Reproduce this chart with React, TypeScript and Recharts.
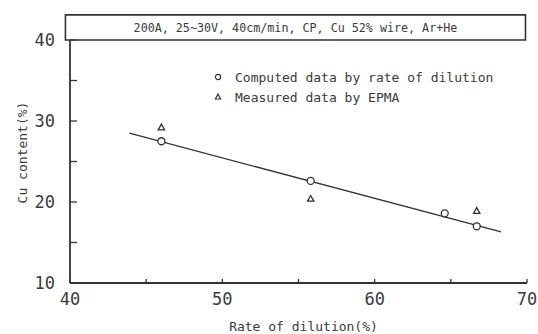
import React from 'react';
import { ComposedChart, XAxis, YAxis, Scatter, Line, ReferenceArea, Legend } from 'recharts';

const computedX = [46.0, 55.8, 64.6, 66.7];
const computedY = [27.5, 22.6, 18.6, 17.0];
const measuredX = [46.0, 55.8, 66.7];
const measuredY = [29.2, 20.4, 18.9];
const fitX = [43.9, 68.3];
const fitY = [28.5, 16.3];
const xTicks = [40, 45, 50, 55, 60, 65, 70];
const yTicks = [10, 15, 20, 25, 30, 35, 40];
const xLabelled = [40, 50, 60, 70];
const yLabelled = [10, 20, 30, 40];
const xDomain: [number, number] = [40, 70];
const yDomain: [number, number] = [10, 40];
const headerRange = { x1: 39.7, x2: 69.9, y1: 40, y2: 43.1 };
const headerText = '200A, 25~30V, 40cm/min, CP, Cu 52% wire, Ar+He';
const computedName = 'Computed data by rate of dilution';
const measuredName = 'Measured data by EPMA';
const xTitle = 'Rate of dilution(%)';
const yTitle = 'Cu content(%)';

const computedData = computedX.map((x, i) => ({ x, y: computedY[i] }));
const measuredData = measuredX.map((x, i) => ({ x, y: measuredY[i] }));
const fitData = fitX.map((x, i) => ({ x, y: fitY[i] }));

const INK = '#333';
const TEXT = '#3a3a3a';
const MONO = '"DejaVu Sans Mono", "Liberation Mono", monospace';

const BottomTick = (p: any) => {
  const { x, y, payload } = p;
  const v = payload.value;
  return (
    <g>
      <line x1={x} y1={y} x2={x} y2={y - 4} stroke={INK} strokeWidth={1.3} />
      {xLabelled.includes(v) && (
        <text x={x} y={y + 22} textAnchor="middle" fontFamily={MONO} fontSize={17} fill={TEXT}>
          {v}
        </text>
      )}
    </g>
  );
};

const TopTick = (p: any) => {
  const { x, y } = p;
  return <line x1={x} y1={y} x2={x} y2={y + 4} stroke={INK} strokeWidth={1.3} />;
};

const LeftTick = (p: any) => {
  const { x, y, payload } = p;
  const v = payload.value;
  return (
    <g>
      <line x1={x} y1={y} x2={x + 7} y2={y} stroke={INK} strokeWidth={1.3} />
      {yLabelled.includes(v) && (
        <text x={x - 15} y={y + 6} textAnchor="end" fontFamily={MONO} fontSize={17} fill={TEXT}>
          {v}
        </text>
      )}
    </g>
  );
};

const RightTick = (p: any) => {
  const { x, y } = p;
  return <line x1={x} y1={y} x2={x - 4} y2={y} stroke={INK} strokeWidth={1.3} />;
};

const CircleShape = (p: any) => (
  <circle cx={p.cx} cy={p.cy} r={3.5} fill="#fff" stroke={INK} strokeWidth={1.3} />
);

const TriShape = (p: any) => (
  <polygon
    points={`${p.cx},${p.cy - 3.3} ${p.cx - 3.2},${p.cy + 2.4} ${p.cx + 3.2},${p.cy + 2.4}`}
    fill="#fff"
    stroke={INK}
    strokeWidth={1.3}
  />
);

const XTitle = (props: any) => {
  const vb = props.viewBox || {};
  const cx = (vb.x ?? 70) + (vb.width ?? 457) / 2 + 5;
  const cy = (vb.y ?? 283) + 48;
  return (
    <text x={cx} y={cy} textAnchor="middle" fontFamily={MONO} fontSize={13} fill={TEXT}>
      {xTitle}
    </text>
  );
};

const YTitle = (props: any) => {
  const vb = props.viewBox || {};
  const cx = (vb.x ?? 0) + 22;
  const cy = (vb.y ?? 40) + (vb.height ?? 243) / 2 - 9;
  return (
    <text
      x={cx}
      y={cy}
      transform={`rotate(-90 ${cx} ${cy})`}
      textAnchor="middle"
      dominantBaseline="central"
      fontFamily={MONO}
      fontSize={13}
      fill={TEXT}
    >
      {yTitle}
    </text>
  );
};

const LegendContent = (props: any) => {
  const payload = props.payload || [];
  const items = payload.filter((e: any) => e.value === computedName || e.value === measuredName);
  return (
    <div style={{ fontFamily: MONO, fontSize: 13, color: TEXT }}>
      {items.map((e: any) => (
        <div key={e.value} style={{ display: 'flex', alignItems: 'center', height: 20 }}>
          <svg width={23} height={12}>
            {e.value === computedName ? (
              <circle cx={6} cy={6} r={2.6} fill="#fff" stroke={INK} strokeWidth={1.2} />
            ) : (
              <polygon points="6,3 3.4,8 8.6,8" fill="#fff" stroke={INK} strokeWidth={1.2} />
            )}
          </svg>
          <span>{e.value}</span>
        </div>
      ))}
    </div>
  );
};

export default function App() {
  return (
    <div style={{ position: 'absolute', left: 0, top: 0, background: '#fff' }}>
      <ComposedChart width={538} height={334} margin={{ top: 40, right: 11, bottom: 0, left: 0 }}>
        <XAxis
          xAxisId="b"
          dataKey="x"
          type="number"
          domain={xDomain}
          ticks={xTicks}
          interval={0}
          height={51}
          tickSize={0}
          tickMargin={0}
          tickLine={false}
          axisLine={{ stroke: INK, strokeWidth: 1.8 }}
          tick={BottomTick}
          label={<XTitle />}
        />
        <XAxis
          xAxisId="t"
          orientation="top"
          dataKey="x"
          type="number"
          domain={xDomain}
          ticks={xTicks}
          interval={0}
          height={0}
          tickSize={0}
          tickMargin={0}
          tickLine={false}
          axisLine={false}
          tick={TopTick}
        />
        <YAxis
          yAxisId="l"
          dataKey="y"
          type="number"
          domain={yDomain}
          ticks={yTicks}
          interval={0}
          width={70}
          tickSize={0}
          tickMargin={0}
          tickLine={false}
          axisLine={{ stroke: INK, strokeWidth: 1.8 }}
          tick={LeftTick}
          label={<YTitle />}
        />
        <YAxis
          yAxisId="r"
          orientation="right"
          dataKey="y"
          type="number"
          domain={yDomain}
          ticks={yTicks}
          interval={0}
          width={0}
          tickSize={0}
          tickMargin={0}
          tickLine={false}
          axisLine={{ stroke: INK, strokeWidth: 1.8 }}
          tick={RightTick}
        />
        <ReferenceArea
          xAxisId="b"
          yAxisId="l"
          x1={headerRange.x1}
          x2={headerRange.x2}
          y1={headerRange.y1}
          y2={headerRange.y2}
          ifOverflow="visible"
          fill="#fff"
          fillOpacity={1}
          stroke={INK}
          strokeWidth={1.6}
          label={{
            value: headerText,
            position: 'center',
            fontFamily: MONO,
            fontSize: 11.7,
            fill: TEXT,
          }}
        />
        <Line
          xAxisId="b"
          yAxisId="l"
          data={fitData}
          dataKey="y"
          stroke={INK}
          strokeWidth={1.3}
          dot={false}
          activeDot={false}
          legendType="none"
          name="fit"
          isAnimationActive={false}
        />
        <Scatter
          xAxisId="b"
          yAxisId="l"
          name={computedName}
          data={computedData}
          shape={CircleShape}
          isAnimationActive={false}
        />
        <Scatter
          xAxisId="b"
          yAxisId="l"
          name={measuredName}
          data={measuredData}
          shape={TriShape}
          isAnimationActive={false}
        />
        <Legend
          layout="vertical"
          align="center"
          verticalAlign="middle"
          content={LegendContent}
          wrapperStyle={{ left: 212, top: 67, width: 320 }}
        />
      </ComposedChart>
    </div>
  );
}
